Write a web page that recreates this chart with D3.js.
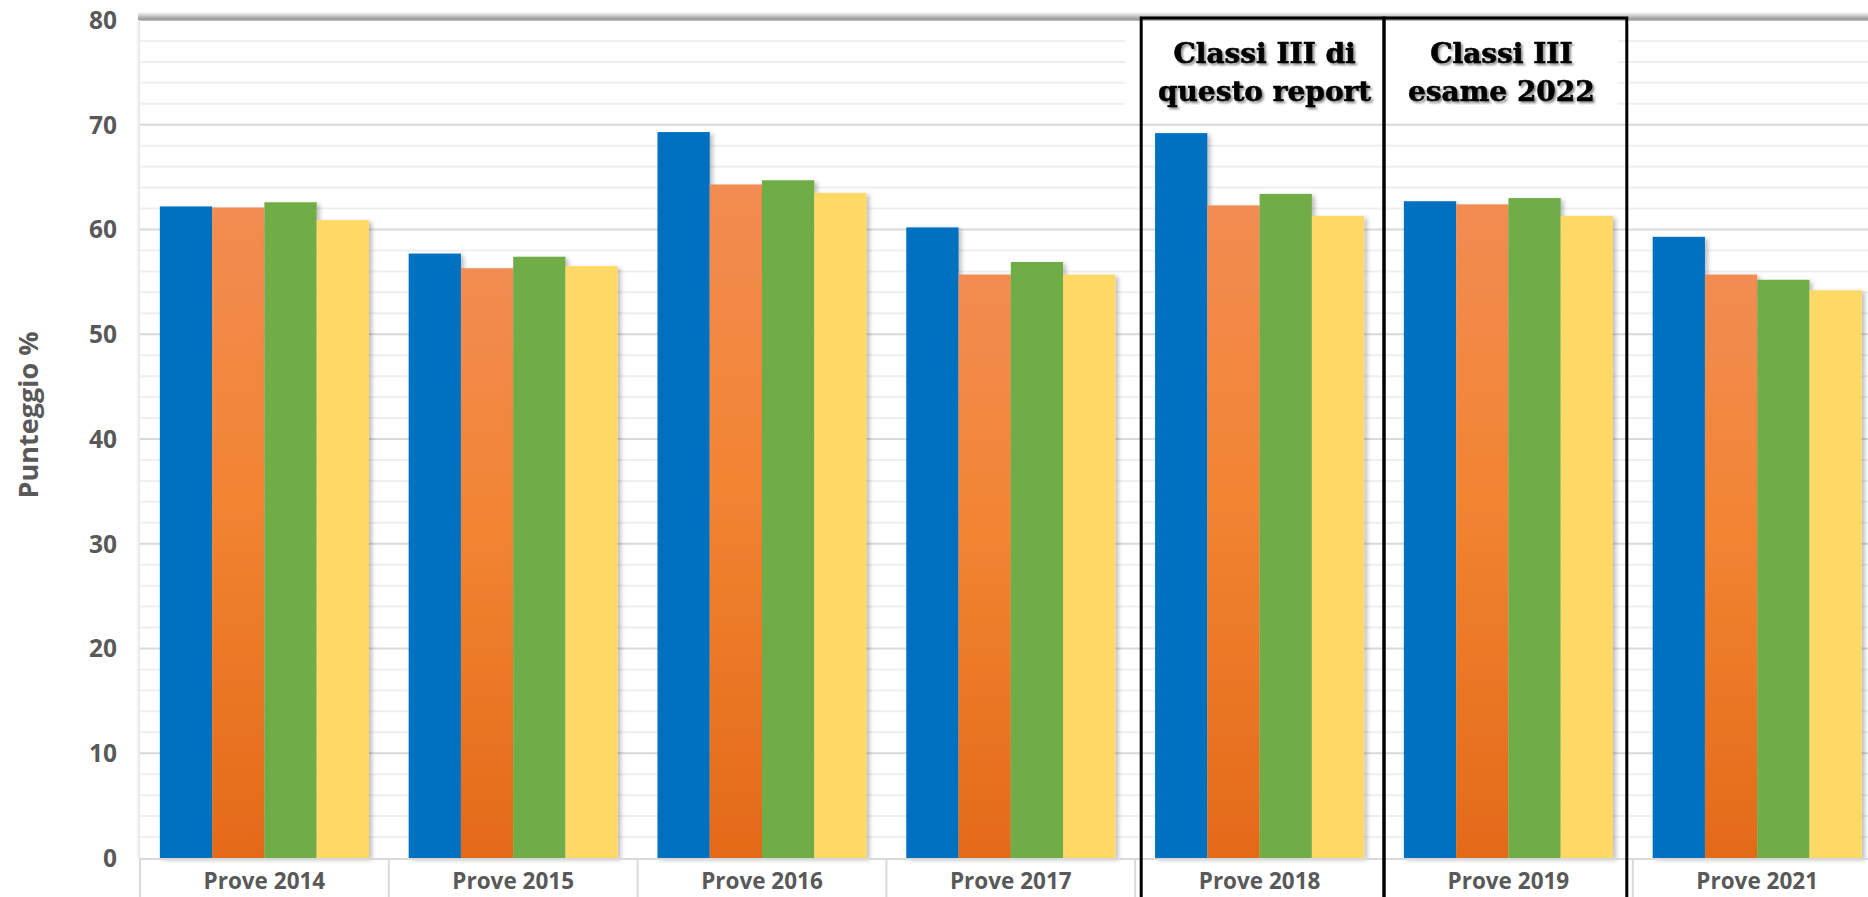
<!DOCTYPE html>
<html>
<head>
<meta charset="utf-8">
<script src="https://cdn.jsdelivr.net/npm/d3@7"></script>
<style>
  html, body { margin: 0; padding: 0; background: #fff; overflow: hidden; }
  svg { display: block; }
</style>
</head>
<body>
<div id="chart"></div>
<script>
var categories = ["Prove 2014", "Prove 2015", "Prove 2016", "Prove 2017", "Prove 2018", "Prove 2019", "Prove 2021"];
var blueValues   = [62.2, 57.7, 69.3, 60.2, 69.2, 62.7, 59.3];
var orangeValues = [62.1, 56.3, 64.3, 55.7, 62.3, 62.4, 55.7];
var greenValues  = [62.6, 57.4, 64.7, 56.9, 63.4, 63.0, 55.2];
var yellowValues = [60.9, 56.5, 63.5, 55.7, 61.3, 61.3, 54.2];
var yTicks = [0, 10, 20, 30, 40, 50, 60, 70, 80];
var boxNotes = [
    { cat: "Prove 2018", lines: ["Classi III di", "questo report"] },
    { cat: "Prove 2019", lines: ["Classi III", "esame 2022"] }
];

var width = 1868, height = 897;
var plotLeft = 140, plotTop = 20, plotBottom = 858;
var step = 248.8;
var labelFont = "'Open Sans', sans-serif";

var series = [
    { values: blueValues,   fill: "#0070c0" },
    { values: orangeValues, fill: "url(#orangeGrad)" },
    { values: greenValues,  fill: "#70ad47" },
    { values: yellowValues, fill: "#ffd966" }
];

var svg = d3.select("#chart")
    .append("svg")
    .attr("width", width)
    .attr("height", height);

var defs = svg.append("defs");

var og = defs.append("linearGradient")
    .attr("id", "orangeGrad")
    .attr("x1", 0).attr("y1", 0).attr("x2", 0).attr("y2", 1);
og.append("stop").attr("offset", "0%").attr("stop-color", "#f28c52");
og.append("stop").attr("offset", "45%").attr("stop-color", "#f28432");
og.append("stop").attr("offset", "100%").attr("stop-color", "#e36a18");

var tg = defs.append("linearGradient")
    .attr("id", "topShade")
    .attr("x1", 0).attr("y1", 0).attr("x2", 0).attr("y2", 1);
tg.append("stop").attr("offset", "0%").attr("stop-color", "#ffffff");
tg.append("stop").attr("offset", "100%").attr("stop-color", "#8c8c8c");

var lg = defs.append("linearGradient")
    .attr("id", "leftShade")
    .attr("x1", 0).attr("y1", 0).attr("x2", 1).attr("y2", 0);
lg.append("stop").attr("offset", "0%").attr("stop-color", "#ffffff");
lg.append("stop").attr("offset", "100%").attr("stop-color", "#e4e4e4");

var bs = defs.append("filter").attr("id", "barShadow")
    .attr("x", "-10%").attr("y", "-10%").attr("width", "130%").attr("height", "120%");
bs.append("feDropShadow").attr("dx", 3).attr("dy", 2).attr("stdDeviation", 2)
    .attr("flood-color", "#000").attr("flood-opacity", 0.25);

var ts = defs.append("filter").attr("id", "textShadow");
ts.append("feDropShadow").attr("dx", 2).attr("dy", 2).attr("stdDeviation", 1.2)
    .attr("flood-color", "#000").attr("flood-opacity", 0.45);

var x = d3.scaleBand()
    .domain(categories)
    .range([plotLeft, plotLeft + step * categories.length]);

var xi = d3.scaleBand()
    .domain(d3.range(series.length))
    .range([0, x.bandwidth()])
    .paddingOuter(0.38);

var y = d3.scaleLinear()
    .domain([0, 80])
    .range([plotBottom, plotTop]);

// plot frame shading
svg.append("rect")
    .attr("x", plotLeft - 4).attr("y", plotTop).attr("width", 4).attr("height", plotBottom - plotTop)
    .attr("fill", "url(#leftShade)");
svg.append("rect")
    .attr("x", plotLeft - 2).attr("y", plotTop - 8).attr("width", width - plotLeft + 2).attr("height", 8)
    .attr("fill", "url(#topShade)");

// minor gridlines
svg.append("g")
    .selectAll("line")
    .data(d3.range(2, 80, 2).filter(function(d) { return d % 10 != 0; }))
    .enter().append("line")
    .attr("x1", plotLeft).attr("x2", width)
    .attr("y1", function(d) { return y(d); })
    .attr("y2", function(d) { return y(d); })
    .attr("stroke", "#efefef")
    .attr("stroke-width", 2);

// white area behind the notes
var noteLeft = x("Prove 2018") - 10;
var noteRight = x("Prove 2021") - 15;
svg.append("rect")
    .attr("x", noteLeft).attr("y", plotTop + 2)
    .attr("width", noteRight - noteLeft).attr("height", y(71) - plotTop - 2)
    .attr("fill", "#fff");

// major gridlines
svg.append("g")
    .selectAll("line")
    .data(yTicks.slice(1, -1))
    .enter().append("line")
    .attr("x1", plotLeft).attr("x2", width)
    .attr("y1", function(d) { return y(d); })
    .attr("y2", function(d) { return y(d); })
    .attr("stroke", "#d9d9d9")
    .attr("stroke-width", 2);

svg.append("line")
    .attr("x1", plotLeft).attr("x2", width)
    .attr("y1", plotTop).attr("y2", plotTop)
    .attr("stroke", "#a6a6a6").attr("stroke-width", 1.5);

// bars
var groups = svg.selectAll(".grp")
    .data(categories)
    .enter().append("g")
    .attr("class", "grp")
    .attr("transform", function(d) { return "translate(" + x(d) + ",0)"; });

series.forEach(function(s, si) {
    groups.append("rect")
        .attr("x", xi(si))
        .attr("y", function(d, i) { return y(s.values[i]); })
        .attr("width", xi.bandwidth())
        .attr("height", function(d, i) { return plotBottom - y(s.values[i]); })
        .attr("fill", s.fill)
        .attr("filter", "url(#barShadow)");
});

// category axis
svg.append("line")
    .attr("x1", plotLeft).attr("x2", width)
    .attr("y1", plotBottom + 1).attr("y2", plotBottom + 1)
    .attr("stroke", "#d9d9d9").attr("stroke-width", 2);

svg.append("g")
    .selectAll("line")
    .data(categories)
    .enter().append("line")
    .attr("x1", function(d) { return x(d); })
    .attr("x2", function(d) { return x(d); })
    .attr("y1", plotBottom).attr("y2", height)
    .attr("stroke", "#d9d9d9").attr("stroke-width", 2);

svg.append("g")
    .selectAll("text")
    .data(categories)
    .enter().append("text")
    .attr("x", function(d) { return x(d) + x.bandwidth() / 2; })
    .attr("y", 881)
    .attr("dy", "0.35em")
    .attr("text-anchor", "middle")
    .attr("font-family", labelFont)
    .attr("font-weight", "bold")
    .attr("font-size", 22.5)
    .attr("fill", "#595959")
    .text(function(d) { return d; });

// value axis labels
svg.append("g")
    .selectAll("text")
    .data(yTicks)
    .enter().append("text")
    .attr("x", 117)
    .attr("y", function(d) { return y(d); })
    .attr("dy", "0.36em")
    .attr("text-anchor", "end")
    .attr("font-family", labelFont)
    .attr("font-weight", "bold")
    .attr("font-size", 24.5)
    .attr("fill", "#595959")
    .text(function(d) { return d; });

svg.append("text")
    .attr("transform", "translate(28.5,415) rotate(-90)")
    .attr("dy", "0.35em")
    .attr("text-anchor", "middle")
    .attr("font-family", labelFont)
    .attr("font-weight", "bold")
    .attr("font-size", 27)
    .attr("fill", "#595959")
    .text("Punteggio %");

// boxed notes
var boxes = [
    { x0: x("Prove 2018") + 6, x1: x("Prove 2019") },
    { x0: x("Prove 2019"), x1: x("Prove 2021") - 6 }
];

boxNotes.forEach(function(n, i) {
    var b = boxes[i];
    var cx = (b.x0 + b.x1) / 2 + (i == 0 ? 2 : -4);
    n.lines.forEach(function(t, li) {
        svg.append("text")
            .attr("x", cx)
            .attr("y", 63 + li * 38)
            .attr("text-anchor", "middle")
            .attr("font-family", "'DejaVu Serif', serif")
            .attr("font-weight", "bold")
            .attr("font-size", 28)
            .attr("fill", "#000")
            .attr("stroke", "#000")
            .attr("stroke-width", 0.6)
            .attr("filter", "url(#textShadow)")
            .text(t);
    });
    svg.append("path")
        .attr("d", "M" + b.x0 + "," + height + "V" + (plotTop - 2) + "H" + b.x1 + "V" + height)
        .attr("fill", "none")
        .attr("stroke", "#000")
        .attr("stroke-width", 3);
});
</script>
</body>
</html>
